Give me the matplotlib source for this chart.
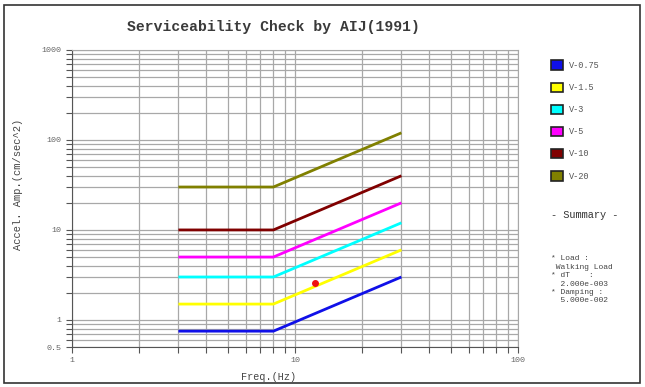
import matplotlib
matplotlib.use('Agg')
import matplotlib.pyplot as plt
from matplotlib.patches import Rectangle
from matplotlib.ticker import LogLocator, FixedLocator, NullFormatter

# AIJ(1991) serviceability curves: flat up to the break frequency, then rising
freqs = [3, 8, 30]
curve_names = ['V-0.75', 'V-1.5', 'V-3', 'V-5', 'V-10', 'V-20']
curve_values = [
    [0.75, 0.75, 3.0],
    [1.5, 1.5, 6.0],
    [3.0, 3.0, 12.0],
    [5.0, 5.0, 20.0],
    [10.0, 10.0, 40.0],
    [30.0, 30.0, 120.0],
]
curve_colors = ['#1010e8', '#ffff00', '#00ffff', '#ff00ff', '#800000', '#808000']

# response point
point_freq = [12.3]
point_accel = [2.55]

summary_lines = ['* Load :', ' Walking Load', '* dT    :', '  2.000e-003',
                 '* Damping :', '  5.000e-002']

y_ticks = [0.5, 1, 10, 100, 1000]
y_ticklabels = ['0.5', '1', '10', '100', '1000']
x_ticks = [1, 10, 100]
x_ticklabels = ['1', '10', '100']

mono = 'Liberation Mono'
W, H = 645, 387
fig = plt.figure(figsize=(W / 100, H / 100), dpi=100)
fig.patches.append(Rectangle((4 / W, 4 / H), 636 / W, 378 / H, transform=fig.transFigure,
                             fill=False, edgecolor='#333333', linewidth=1.2))

ax = fig.add_axes([72 / W, 1 - 347 / H, 446 / W, 297 / H])
ax.set_xscale('log')
ax.set_yscale('log')
ax.set_xlim(1, 100)
ax.set_ylim(0.5, 1000)

for vals, c in zip(curve_values, curve_colors):
    ax.plot(freqs, vals, color=c, linewidth=2, solid_capstyle='butt', zorder=3)
ax.plot(point_freq, point_accel, 'o', color='#ee1111', markersize=4, zorder=4)

ax.xaxis.set_major_locator(FixedLocator(x_ticks))
ax.set_xticklabels(x_ticklabels)
ax.xaxis.set_minor_locator(LogLocator(base=10, subs=range(2, 10)))
ax.xaxis.set_minor_formatter(NullFormatter())
ax.yaxis.set_major_locator(FixedLocator(y_ticks))
ax.set_yticklabels(y_ticklabels)
ax.yaxis.set_minor_locator(LogLocator(base=10, subs=range(2, 10)))
ax.yaxis.set_minor_formatter(NullFormatter())

ax.grid(True, which='both', color='#a8a8a8', linewidth=0.9)
ax.set_axisbelow(True)
for s in ['top', 'right']:
    ax.spines[s].set_color('#a8a8a8')
for s in ['left', 'bottom']:
    ax.spines[s].set_color('#555555')
ax.tick_params(which='both', direction='out', color='#555555', labelcolor='#666666',
               labelsize=6, length=4, width=0.8)
for lab in ax.get_xticklabels() + ax.get_yticklabels():
    lab.set_family(mono)

ax.set_xlabel('Freq.(Hz)', fontfamily=mono, fontsize=7.3, color='#444444')
ax.xaxis.set_label_coords((269 - 72) / 446, (347 - 372) / 297)
ax.set_ylabel('Accel. Amp.(cm/sec^2)', fontfamily=mono, fontsize=7.5, color='#444444')
ax.yaxis.set_label_coords((23 - 72) / 446, (347 - 184) / 297)

fig.text(273 / W, 1 - 27 / H, 'Serviceability Check by AIJ(1991)', fontfamily=mono,
         fontsize=10.6, fontweight='bold', color='#3a3a3a', ha='center', va='center')

# legend boxes
for i, (name, c) in enumerate(zip(curve_names, curve_colors)):
    yc = 65 + i * 22.2
    fig.patches.append(Rectangle((551 / W, 1 - (yc + 4.5) / H), 12 / W, 9 / H,
                                 transform=fig.transFigure, facecolor=c,
                                 edgecolor='#222222', linewidth=1.2))
    fig.text(569 / W, 1 - yc / H, name, fontfamily=mono, fontsize=6.2,
             color='#555555', va='center', ha='left')

fig.text(551 / W, 1 - 215 / H, '- Summary -', fontfamily=mono, fontsize=7.4,
         color='#333333', va='center', ha='left')
for i, line in enumerate(summary_lines):
    fig.text(551 / W, 1 - (259 + i * 8.4) / H, line, fontfamily=mono, fontsize=5.8,
             color='#444444', va='center', ha='left')

fig.savefig('out.png', dpi=100)
